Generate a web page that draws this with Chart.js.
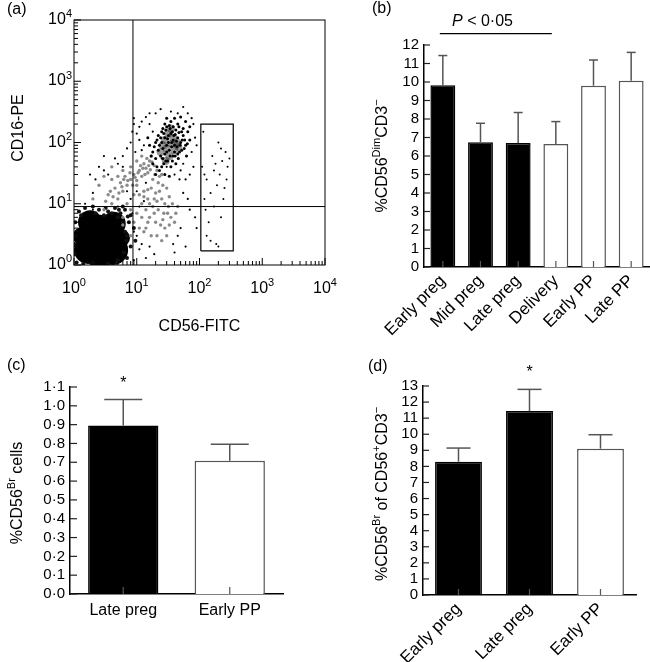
<!DOCTYPE html>
<html>
<head>
<meta charset="utf-8">
<script src="https://cdn.jsdelivr.net/npm/chart.js@4.4.1/dist/chart.umd.min.js"></script>
<style>
    body { margin: 0; background: #fff; width: 650px; height: 662px; position: relative; overflow: hidden; }
    canvas { position: absolute; }
</style>
</head>
<body>
<canvas id="chartA" width="340" height="345" style="left:0;top:0"></canvas>
<canvas id="chartB" width="310" height="345" style="left:340px;top:0"></canvas>
<canvas id="chartC" width="330" height="332" style="left:0;top:330px"></canvas>
<canvas id="chartD" width="320" height="332" style="left:330px;top:330px"></canvas>
<script>
const FONT = '"Liberation Sans", Arial, Helvetica, sans-serif';

/* ===============================
   DATA - panel (a) flow plot
================================ */
const aDecades = [0, 1, 2, 3, 4];
const aQuadX = 8.7;
const aQuadY = 9;
const aGateBox = [[105, 1.7], [345, 1.7], [345, 200], [105, 200], [105, 1.7]];

const aBlob = [[2.6, 2.9], [1.67, 1.76], [4.2, 1.76], [1.8, 5.0], [4.3, 4.7], [1.34, 2.97], [2.6, 1.3], [5.6, 2.76]];

const aFringe = [[7, 3], [7.5, 5], [8, 2], [6.5, 8], [5.5, 7], [9, 4], [8, 6.5], [1.2, 7.5], [1.5, 8.5], [2.5, 8],
    [3.5, 7.5], [4.5, 8.5], [6, 9], [9.5, 2.5], [1.1, 1.1], [2, 1.1], [5, 1.2], [7, 1.3], [1.05, 5], [1.05, 3],
    [1.3, 6.5], [2.2, 7], [3, 6.5], [4, 7], [5, 6], [6, 5], [6.5, 3.5], [6.8, 2.5], [6.2, 1.6], [4.8, 1.1],
    [3.5, 1.05], [1.4, 1.05], [1.02, 1.5], [1.02, 2.2], [7.2, 6.2], [5.2, 8], [3.2, 8.5], [2, 9]];

const aCluster = [[20, 100], [22, 130], [25, 150], [28, 120], [30, 180], [32, 100], [35, 140], [38, 110], [40, 90], [42, 160],
    [45, 120], [48, 70], [50, 100], [55, 130], [60, 90], [26, 80], [28, 65], [30, 90], [33, 75], [36, 85],
    [38, 60], [40, 70], [44, 85], [46, 55], [52, 75], [24, 60], [22, 75], [20, 55], [27, 45], [31, 50],
    [35, 40], [42, 45], [18, 70], [18, 45], [25, 100], [30, 70], [34, 60], [36, 100], [39, 130], [32, 130],
    [28, 200], [35, 220], [45, 200], [55, 170], [60, 220], [65, 150], [70, 110], [62, 60], [23, 35], [28, 30],
    [33, 28], [20, 30], [16, 90], [15, 120], [70, 180], [40, 250], [50, 260], [30, 250],
    [24, 120], [27, 140], [29, 160], [31, 115], [34, 170], [37, 150], [41, 135], [43, 105], [47, 145], [49, 90],
    [53, 110], [57, 80], [23, 90], [21, 110], [19, 85], [26, 55], [29, 50], [37, 50], [41, 60], [45, 65],
    [33, 190], [38, 180], [26, 170], [47, 180], [52, 150], [58, 110], [64, 95], [17, 60], [21, 40], [25, 40]];

const aCore = [[30, 80], [36, 95], [28, 110], [40, 75], [33, 60], [26, 90], [38, 120], [44, 100],
    [32, 140], [24, 70], [46, 85], [35, 170], [29, 50]];

const aSpread = [[3, 8], [4, 10], [3.5, 14], [5, 12], [4.5, 18], [6, 16], [5.5, 22], [7, 20], [6.5, 28], [8, 25],
    [9, 30], [10, 24], [11, 35], [12, 28], [13, 45], [14, 38], [16, 50], [15, 32], [17, 60], [19, 42],
    [12, 60], [10, 50], [8, 40], [6, 35], [5, 28], [4, 25], [18, 25], [22, 22], [25, 30], [20, 15],
    [25, 12], [30, 18], [15, 12], [12, 10], [14, 8], [18, 9], [22, 8], [27, 7], [32, 9], [35, 6],
    [16, 6], [20, 5], [24, 4.5], [28, 4], [40, 5], [45, 9], [12, 6], [10, 7], [9, 5], [8, 8],
    [11, 4], [14, 4], [17, 3], [25, 2.5], [30, 3], [6, 6], [7, 10], [13, 16], [17, 18], [9, 14],
    [21, 11], [26, 20], [33, 13], [2.5, 20], [3, 28], [4, 40], [2, 12],
    [3.2, 11], [3.8, 16], [4.2, 13], [5.2, 15], [5.8, 19], [6.2, 25], [7.2, 24], [7.8, 32], [8.6, 20], [9.4, 27],
    [10.5, 32], [11.5, 42], [12.5, 38], [13.5, 30], [14.5, 55], [15.5, 42], [16.5, 36], [17.5, 48], [19.5, 30], [21, 35],
    [23, 28], [10, 20], [11, 14], [13, 13], [15, 17], [16, 10], [19, 12], [23, 16], [28, 10], [31, 7],
    [37, 10], [42, 7], [26, 5.5], [19, 7], [15, 5], [8, 3], [6, 4.5], [13, 3.5], [21, 3], [33, 4.5]];

const aDots = [[1.5, 10], [2, 15], [2.2, 25], [3, 35], [5, 45], [6, 60], [8, 100], [8.5, 150], [9, 200], [9, 250],
    [11, 180], [12, 220], [14, 260], [16, 300], [10, 140], [7, 80], [4.5, 55], [3.5, 30], [6, 40], [13, 90],
    [11, 110], [9.5, 70], [12, 75], [18, 150], [16, 200], [20, 300], [24, 350], [35, 320], [45, 300], [55, 380],
    [65, 300], [75, 250], [80, 200], [85, 120], [90, 90], [75, 70], [80, 40], [70, 30], [60, 25], [55, 15],
    [65, 12], [70, 8], [85, 6], [50, 4], [45, 3], [38, 2.2], [60, 2], [90, 4], [40, 1.6], [16, 2],
    [19, 1.5], [14, 1.3], [12, 2.2], [10, 3], [9, 1.2], [11, 1.8], [25, 55], [30, 40], [8, 12], [10, 16],
    [14, 22], [7, 16], [11, 9], [13, 11], [5, 9], [9, 3.5], [7.5, 5], [8.5, 7], [40, 30], [50, 35],
    [55, 45], [48, 25], [3, 60], [2.5, 40], [1.8, 30], [2, 8]];

const aGate = [[110, 40], [115, 150], [120, 12], [125, 8], [130, 25], [140, 5], [150, 15], [160, 60], [170, 35], [180, 45],
    [185, 2.2], [190, 20], [200, 100], [210, 30], [220, 80], [230, 50], [240, 12], [250, 18], [260, 70], [270, 25],
    [280, 40], [200, 2], [150, 2.5], [130, 3], [300, 55], [120, 30], [170, 9], [220, 6]];

/* ===============================
   DATA - bar panels
================================ */
const bLabels = ['Early preg', 'Mid preg', 'Late preg', 'Delivery', 'Early PP', 'Late PP'];
const bMeans = [9.82, 6.74, 6.70, 6.65, 9.80, 10.07];
const bUpper = [11.43, 7.77, 8.35, 7.86, 11.19, 11.60];
const bPregnant = [true, true, true, false, false, false];

const cLabels = ['Late preg', 'Early PP'];
const cMeans = [0.896, 0.708];
const cUpper = [1.033, 0.796];
const cPregnant = [true, false];

const dLabels = ['Early preg', 'Late preg', 'Early PP'];
const dMeans = [8.29, 11.44, 9.10];
const dUpper = [9.14, 12.79, 9.97];
const dPregnant = [true, true, false];

/* ===============================
   HELPERS
================================ */
const pts = arr => arr.map(p => ({ x: p[0], y: p[1] }));

function drawRich(ctx, parts, x, y, opts = {}) {
    const size = opts.size || 16;
    const supSize = Math.round(size * 0.7);
    const fontOf = p => `${p.italic ? 'italic ' : ''}${p.sup ? supSize : size}px ${FONT}`;
    let w = 0;
    parts.forEach(p => { ctx.font = fontOf(p); p.w = ctx.measureText(p.t).width; w += p.w; });
    ctx.save();
    ctx.translate(x, y);
    if (opts.rotate) ctx.rotate(opts.rotate);
    let cx = opts.align === 'right' ? -w : opts.align === 'left' ? 0 : -w / 2;
    ctx.fillStyle = '#000';
    ctx.textAlign = 'left';
    ctx.textBaseline = 'alphabetic';
    parts.forEach(p => {
        ctx.font = fontOf(p);
        ctx.fillText(p.t, cx, p.sup ? -size * 0.42 : 0);
        cx += p.w;
    });
    ctx.restore();
}

function seg(ctx, x1, y1, x2, y2) {
    ctx.beginPath();
    ctx.moveTo(x1, y1);
    ctx.lineTo(x2, y2);
    ctx.stroke();
}

/* ===============================
   PLUGINS
================================ */
const flowDecor = {
    id: 'flowDecor',
    afterDraw(chart) {
        const { ctx, chartArea: a, scales: { x, y } } = chart;
        ctx.save();
        ctx.strokeStyle = '#000';
        ctx.lineWidth = 1;
        ctx.strokeRect(a.left, a.top, a.right - a.left, a.bottom - a.top);
        aDecades.forEach(k => {
            for (let m = 1; m <= 9; m++) {
                const v = m * Math.pow(10, k);
                if (v > 10000) break;
                const len = m === 1 ? 7 : 4;
                const px = x.getPixelForValue(v);
                const py = y.getPixelForValue(v);
                seg(ctx, px, a.bottom, px, a.bottom - len);
                seg(ctx, a.left, py, a.left + len, py);
            }
            const v = Math.pow(10, k);
            drawRich(ctx, [{ t: '10' }, { t: String(k), sup: true }], x.getPixelForValue(v), a.bottom + 28);
            drawRich(ctx, [{ t: '10' }, { t: String(k), sup: true }], a.left - 2, y.getPixelForValue(v) + 4, { align: 'right' });
        });
        drawRich(ctx, [{ t: 'CD56-FITC' }], (a.left + a.right) / 2, 331);
        drawRich(ctx, [{ t: 'CD16-PE' }], 23, 128, { rotate: -Math.PI / 2 });
        drawRich(ctx, [{ t: '(a)' }], 7, 14, { align: 'left' });
        ctx.restore();
    }
};

const barDecor = {
    id: 'barDecor',
    afterDraw(chart, args, o) {
        const { ctx, chartArea: a, scales: { x, y } } = chart;
        const meta = chart.getDatasetMeta(0);
        ctx.save();

        // error bars (mean + SEM)
        ctx.strokeStyle = '#555';
        ctx.lineWidth = 1.5;
        o.upper.forEach((v, i) => {
            const bar = meta.data[i];
            const yt = y.getPixelForValue(v);
            seg(ctx, bar.x, bar.y, bar.x, yt);
            seg(ctx, bar.x - o.cap / 2, yt, bar.x + o.cap / 2, yt);
        });

        // inward ticks
        ctx.strokeStyle = '#222';
        ctx.lineWidth = 1.2;
        y.ticks.forEach(t => {
            const py = y.getPixelForValue(t.value);
            seg(ctx, a.left, py, a.left + o.tick, py);
        });
        ctx.strokeStyle = '#555';
        x.ticks.forEach((t, i) => {
            const px = x.getPixelForValue(i);
            seg(ctx, px, a.bottom, px, a.bottom - o.tick);
        });

        // asterisk
        if (o.star != null) {
            const sx = x.getPixelForValue(o.star);
            const sy = y.getPixelForValue(o.upper[o.star]) - 21;
            drawRich(ctx, [{ t: '*' }], sx, sy + 9);
        }

        // significance line
        if (o.sig) {
            ctx.strokeStyle = '#000';
            ctx.lineWidth = 1.2;
            const ly = y.getPixelForValue(o.sig.value);
            seg(ctx, x.getPixelForValue(o.sig.from) - 3, ly, x.getPixelForValue(o.sig.to) - 4, ly);
            drawRich(ctx, o.sig.parts, x.getPixelForValue(1) + 2, ly - 8);
        }

        drawRich(ctx, o.title, o.titleAt[0], o.titleAt[1], { rotate: -Math.PI / 2 });
        drawRich(ctx, [{ t: o.panel }], o.panelAt[0], o.panelAt[1], { align: 'left' });
        ctx.restore();
    }
};

Chart.defaults.font.family = FONT;

/* ===============================
   PANEL (a)
================================ */
new Chart(document.getElementById('chartA'), {
    type: 'scatter',
    data: {
        datasets: [
            { data: pts(aGateBox), showLine: true, borderColor: '#000', borderWidth: 1.2, pointRadius: 0, clip: 0 },
            { data: pts([[aQuadX, 1], [aQuadX, 10000]]), showLine: true, borderColor: '#000', borderWidth: 1, pointRadius: 0, clip: 0 },
            { data: pts([[1, aQuadY], [10000, aQuadY]]), showLine: true, borderColor: '#000', borderWidth: 1, pointRadius: 0, clip: 0 },
            { data: pts(aGate), pointRadius: 1, backgroundColor: '#000', borderWidth: 0, clip: 0 },
            { data: pts(aCore), pointRadius: 4, backgroundColor: 'rgba(0,0,0,0.4)', borderWidth: 0, clip: 0 },
            { data: pts(aCluster), pointRadius: 1.5, backgroundColor: '#000', borderWidth: 0, clip: 0 },
            { data: pts(aDots), pointRadius: 1.1, backgroundColor: '#000', borderWidth: 0, clip: 0 },
            { data: pts(aSpread), pointRadius: 1.7, backgroundColor: '#8a8a8a', borderWidth: 0, clip: 0 },
            { data: pts(aFringe), pointRadius: 2, backgroundColor: '#111', borderWidth: 0, clip: 0 },
            { data: pts(aBlob), pointRadius: [22, 14, 15, 12, 12, 9, 12, 9], backgroundColor: '#000', borderWidth: 0, clip: 0 }
        ]
    },
    options: {
        responsive: false,
        animation: false,
        layout: { autoPadding: false, padding: { top: 20, right: 15, left: 0, bottom: 0 } },
        plugins: { legend: { display: false }, tooltip: { enabled: false } },
        scales: {
            x: {
                type: 'logarithmic', min: 1, max: 10000,
                ticks: { display: false },
                grid: { display: false, drawTicks: false },
                border: { display: false },
                afterFit(s) { s.height = 80; }
            },
            y: {
                type: 'logarithmic', min: 1, max: 10000,
                ticks: { display: false },
                grid: { display: false, drawTicks: false },
                border: { display: false },
                afterFit(s) { s.width = 74; }
            }
        }
    },
    plugins: [flowDecor]
});

/* ===============================
   BAR PANELS
================================ */
function makeBars(id, cfg) {
    return new Chart(document.getElementById(id), {
        type: 'bar',
        data: {
            labels: cfg.labels,
            datasets: [{
                data: cfg.means,
                backgroundColor: cfg.pregnant.map(p => p ? '#000' : '#fff'),
                borderColor: cfg.pregnant.map(p => p ? '#000' : '#555'),
                borderWidth: 1.5,
                barPercentage: 0.66,
                categoryPercentage: 1
            }]
        },
        options: {
            responsive: false,
            animation: false,
            layout: { padding: cfg.padding },
            plugins: {
                legend: { display: false },
                tooltip: { enabled: false },
                barDecor: cfg.decor
            },
            scales: {
                x: {
                    grid: { display: false, drawTicks: false },
                    border: { color: '#000', width: 1.5 },
                    ticks: {
                        color: '#000', autoSkip: false, padding: cfg.xPad,
                        minRotation: cfg.rot, maxRotation: cfg.rot,
                        font: { size: cfg.xFont }
                    },
                    afterFit(s) { s.height = cfg.xHeight; }
                },
                y: {
                    min: 0, max: cfg.yMax,
                    grid: { display: false, drawTicks: false },
                    border: { color: '#000', width: 1.5 },
                    ticks: {
                        color: '#000', stepSize: cfg.step, maxTicksLimit: 40, padding: 5,
                        autoSkip: false,
                        font: { size: 15, lineHeight: 1 },
                        callback: cfg.fmt
                    },
                    afterFit(s) { s.width = cfg.yWidth; }
                }
            }
        },
        plugins: [barDecor]
    });
}

makeBars('chartB', {
    labels: bLabels, means: bMeans, pregnant: bPregnant,
    yMax: 12, step: 1, fmt: v => String(v),
    padding: { top: 45, right: 0, left: 0, bottom: 0 },
    yWidth: 84, xHeight: 78, xPad: 4, rot: 45, xFont: 17,
    decor: {
        upper: bUpper, cap: 9, tick: 6,
        sig: { from: 0, to: 3, value: 12.62, parts: [{ t: 'P', italic: true }, { t: ' < 0·05' }] },
        title: [{ t: '%CD56' }, { t: 'Dim', sup: true }, { t: 'CD3' }, { t: '−', sup: true }],
        titleAt: [47, 156], panel: '(b)', panelAt: [32, 13]
    }
});

makeBars('chartC', {
    labels: cLabels, means: cMeans, pregnant: cPregnant,
    yMax: 1.1, step: 0.1, fmt: v => v.toFixed(1).replace('.', '·'),
    padding: { top: 57, right: 47, left: 0, bottom: 0 },
    yWidth: 70, xHeight: 68, xPad: 7, rot: 0, xFont: 16,
    decor: {
        upper: cUpper, cap: 38, tick: 7, star: 0,
        title: [{ t: '%CD56' }, { t: 'Br', sup: true }, { t: ' cells' }],
        titleAt: [22, 163], panel: '(c)', panelAt: [7, 40]
    }
});

makeBars('chartD', {
    labels: dLabels, means: dMeans, pregnant: dPregnant,
    yMax: 13, step: 1, fmt: v => String(v),
    padding: { top: 56, right: 14, left: 0, bottom: 0 },
    yWidth: 93, xHeight: 67, xPad: 4, rot: 45, xFont: 17,
    decor: {
        upper: dUpper, cap: 24, tick: 6, star: 1,
        title: [{ t: '%CD56' }, { t: 'Br', sup: true }, { t: ' of CD56' }, { t: '+', sup: true }, { t: 'CD3' }, { t: '−', sup: true }],
        titleAt: [57, 164], panel: '(d)', panelAt: [38, 41]
    }
});
</script>
</body>
</html>
